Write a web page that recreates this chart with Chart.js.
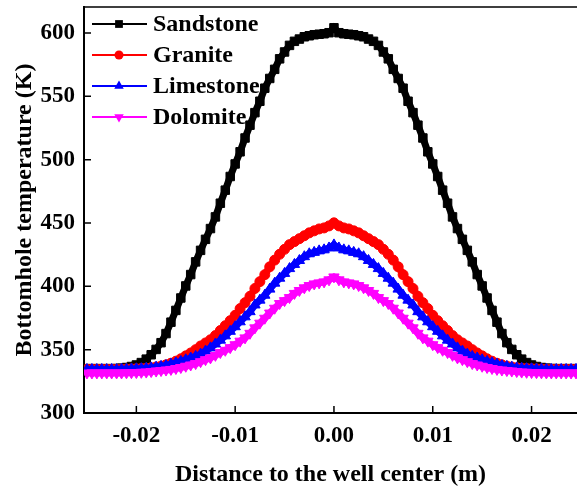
<!DOCTYPE html>
<html>
<head>
<meta charset="utf-8">
<script src="https://cdn.jsdelivr.net/npm/chart.js@4.4.1/dist/chart.umd.min.js"></script>
<style>
  html, body { margin: 0; padding: 0; background: #fff; }
  #wrap { width: 577px; height: 490px; }
</style>
</head>
<body>
<div id="wrap"><canvas id="tempChart" width="577" height="490"></canvas></div>
<script>
// distance to the well center (m)
const distance = [
  -0.025, -0.0245, -0.024, -0.0235, -0.023, -0.0225, -0.022, -0.0215, -0.021, -0.0205,
  -0.02, -0.0195, -0.019, -0.0185, -0.018, -0.0175, -0.017, -0.0165, -0.016, -0.0155,
  -0.015, -0.0145, -0.014, -0.0135, -0.013, -0.0125, -0.012, -0.0115, -0.011, -0.0105,
  -0.01, -0.0095, -0.009, -0.0085, -0.008, -0.0075, -0.007, -0.0065, -0.006, -0.0055,
  -0.005, -0.0045, -0.004, -0.0035, -0.003, -0.0025, -0.002, -0.0015, -0.001, -0.0005,
  0,
  0.0005, 0.001, 0.0015, 0.002, 0.0025, 0.003, 0.0035, 0.004, 0.0045, 0.005,
  0.0055, 0.006, 0.0065, 0.007, 0.0075, 0.008, 0.0085, 0.009, 0.0095, 0.01,
  0.0105, 0.011, 0.0115, 0.012, 0.0125, 0.013, 0.0135, 0.014, 0.0145, 0.015,
  0.0155, 0.016, 0.0165, 0.017, 0.0175, 0.018, 0.0185, 0.019, 0.0195, 0.02,
  0.0205, 0.021, 0.0215, 0.022, 0.0225, 0.023, 0.0235, 0.024, 0.0245, 0.025
];

// bottomhole temperature (K)
const sandstone = [
  335.0, 335.0, 335.0, 335.0, 335.0, 335.0, 335.1, 335.4, 335.9, 336.7,
  337.9, 339.8, 342.5, 346.0, 350.2, 355.5, 362.7, 371.7, 381.0, 390.8,
  400.3, 409.3, 419.3, 428.4, 437.1, 445.6, 454.8, 465.6, 475.9, 486.7,
  496.6, 506.2, 517.1, 527.2, 537.1, 546.1, 556.4, 564.1, 571.3, 579.6,
  585.0, 590.2, 593.4, 595.2, 597.0, 597.8, 598.6, 599.0, 599.4, 600.2,
  604.1,
  600.2, 599.4, 599.0, 598.6, 597.8, 597.0, 595.2, 593.4, 590.2, 585.0,
  579.6, 571.3, 564.1, 556.4, 546.1, 537.1, 527.2, 517.1, 506.2, 496.6,
  486.7, 475.9, 465.6, 454.8, 445.6, 437.1, 428.4, 419.3, 409.3, 400.3,
  390.8, 381.0, 371.7, 362.7, 355.5, 350.2, 346.0, 342.5, 339.8, 337.9,
  336.7, 335.9, 335.4, 335.1, 335.0, 335.0, 335.0, 335.0, 335.0, 335.0
];
const granite = [
  334.5, 334.5, 334.5, 334.5, 334.5, 334.5, 334.5, 334.6, 334.7, 334.8,
  334.9, 335.1, 335.3, 335.7, 336.3, 337.0, 338.0, 339.3, 340.9, 342.8,
  345.1, 347.4, 350.0, 352.9, 355.3, 357.8, 361.1, 365.1, 368.9, 372.9,
  377.1, 382.4, 387.1, 392.1, 398.3, 403.7, 409.2, 415.4, 420.7, 425.3,
  429.2, 432.9, 435.3, 437.6, 439.9, 442.2, 443.8, 445.3, 446.1, 447.7,
  450.1,
  447.7, 446.1, 445.3, 443.8, 442.2, 439.9, 437.6, 435.3, 432.9, 429.2,
  425.3, 420.7, 415.4, 409.2, 403.7, 398.3, 392.1, 387.1, 382.4, 377.1,
  372.9, 368.9, 365.1, 361.1, 357.8, 355.3, 352.9, 350.0, 347.4, 345.1,
  342.8, 340.9, 339.3, 338.0, 337.0, 336.3, 335.7, 335.3, 335.1, 334.9,
  334.8, 334.7, 334.6, 334.5, 334.5, 334.5, 334.5, 334.5, 334.5, 334.5
];
const limestone = [
  334.4, 334.4, 334.4, 334.4, 334.4, 334.4, 334.4, 334.5, 334.6, 334.7,
  334.9, 335.0, 335.3, 335.6, 336.2, 336.8, 337.5, 338.6, 339.6, 340.7,
  342.0, 343.4, 344.7, 346.5, 348.9, 351.4, 354.5, 357.5, 360.9, 364.5,
  368.1, 372.0, 375.9, 380.0, 385.3, 389.1, 393.0, 397.8, 402.5, 406.4,
  410.2, 414.0, 417.3, 420.4, 423.4, 425.7, 426.8, 428.0, 428.8, 430.3,
  432.7,
  430.3, 428.8, 428.0, 426.8, 425.7, 423.4, 420.4, 417.3, 414.0, 410.2,
  406.4, 402.5, 397.8, 393.0, 389.1, 385.3, 380.0, 375.9, 372.0, 368.1,
  364.5, 360.9, 357.5, 354.5, 351.4, 348.9, 346.5, 344.7, 343.4, 342.0,
  340.7, 339.6, 338.6, 337.5, 336.8, 336.2, 335.6, 335.3, 335.0, 334.9,
  334.7, 334.6, 334.5, 334.4, 334.4, 334.4, 334.4, 334.4, 334.4, 334.4
];
const dolomite = [
  331.6, 331.6, 331.6, 331.6, 331.6, 331.6, 331.6, 331.6, 331.7, 331.8,
  331.9, 332.1, 332.3, 332.7, 333.1, 333.5, 333.9, 334.4, 335.1, 335.9,
  336.9, 337.9, 339.0, 340.5, 342.1, 343.5, 345.5, 347.7, 349.5, 351.6,
  353.9, 356.7, 359.3, 362.9, 367.2, 370.9, 374.8, 378.9, 382.7, 386.4,
  388.7, 391.1, 394.4, 396.7, 398.8, 400.6, 401.9, 402.7, 403.5, 405.1,
  407.4,
  405.1, 403.5, 402.7, 401.9, 400.6, 398.8, 396.7, 394.4, 391.1, 388.7,
  386.4, 382.7, 378.9, 374.8, 370.9, 367.2, 362.9, 359.3, 356.7, 353.9,
  351.6, 349.5, 347.7, 345.5, 343.5, 342.1, 340.5, 339.0, 337.9, 336.9,
  335.9, 335.1, 334.4, 333.9, 333.5, 333.1, 332.7, 332.3, 332.1, 331.9,
  331.8, 331.7, 331.6, 331.6, 331.6, 331.6, 331.6, 331.6, 331.6, 331.6
];

const xTicks = [-0.02, -0.01, 0, 0.01, 0.02];
const yTicks = [300, 350, 400, 450, 500, 550, 600];

const serif = "'Liberation Serif', 'Times New Roman', serif";

function toPoints(values) {
  return values.map((y, i) => ({ x: distance[i], y: y }));
}

function makeSeries(label, values, color, pointStyle, radius, rotation, order) {
  return {
    label: label,
    data: toPoints(values),
    showLine: true,
    borderColor: color,
    backgroundColor: color,
    borderWidth: 7,
    pointStyle: pointStyle,
    pointRadius: radius,
    pointRotation: rotation,
    pointBorderWidth: 1,
    pointBorderColor: color,
    pointBackgroundColor: color,
    order: order,
  };
}

// marker for the hand drawn legend
function drawMarker(ctx, style, x, y, r, rotation) {
  ctx.beginPath();
  if (style === "rect") {
    const s = r * Math.SQRT1_2;
    ctx.rect(x - s, y - s, 2 * s, 2 * s);
  } else if (style === "circle") {
    ctx.arc(x, y, r, 0, Math.PI * 2);
  } else {
    let a = (rotation || 0) * Math.PI / 180;
    ctx.moveTo(x + Math.sin(a) * r, y - Math.cos(a) * r);
    for (let i = 0; i < 2; i++) {
      a += Math.PI * 2 / 3;
      ctx.lineTo(x + Math.sin(a) * r, y - Math.cos(a) * r);
    }
    ctx.closePath();
  }
  ctx.fill();
}

const framePlugin = {
  id: "frame",
  afterDraw(chart) {
    const { ctx, chartArea: a, scales } = chart;
    ctx.save();
    ctx.strokeStyle = "#000";
    ctx.lineWidth = 1.5;
    ctx.beginPath();
    ctx.moveTo(a.left, a.top);
    ctx.lineTo(a.right, a.top);
    xTicks.forEach((v) => {
      const px = scales.x.getPixelForValue(v);
      ctx.moveTo(px, a.bottom);
      ctx.lineTo(px, a.bottom - 7);
    });
    yTicks.forEach((v) => {
      const py = scales.y.getPixelForValue(v);
      ctx.moveTo(a.left, py);
      ctx.lineTo(a.left + 7, py);
    });
    ctx.stroke();

    // legend, top left inside the plot
    const rowY = [24, 55, 86, 117];
    chart.data.datasets.forEach((ds, i) => {
      const y = rowY[i];
      ctx.strokeStyle = ds.borderColor;
      ctx.fillStyle = ds.borderColor;
      ctx.lineWidth = 2;
      ctx.beginPath();
      ctx.moveTo(92, y);
      ctx.lineTo(147, y);
      ctx.stroke();
      drawMarker(ctx, ds.pointStyle, 119, y, ds.pointRadius - 0.5, ds.pointRotation);
      ctx.fillStyle = "#000";
      ctx.font = "bold 24px " + serif;
      ctx.textAlign = "left";
      ctx.textBaseline = "middle";
      ctx.fillText(ds.label, 153, y + 1);
    });
    ctx.restore();
  },
};

const ctx = document.getElementById("tempChart").getContext("2d");

new Chart(ctx, {
  type: "scatter",
  data: {
    datasets: [
      makeSeries("Sandstone", sandstone, "#000000", "rect", 6, 0, 4),
      makeSeries("Granite", granite, "#ff0000", "circle", 5, 0, 3),
      makeSeries("Limestone", limestone, "#0000ff", "triangle", 6, 0, 2),
      makeSeries("Dolomite", dolomite, "#ff00ff", "triangle", 6, 180, 1),
    ],
  },
  options: {
    responsive: false,
    animation: false,
    layout: { autoPadding: false, padding: { top: 7, right: 0, bottom: 0, left: 0 } },
    scales: {
      x: {
        type: "linear",
        min: -0.0253,
        max: 0.0246,
        grid: { display: false, drawTicks: false },
        border: { display: true, color: "#000", width: 2 },
        afterBuildTicks: (s) => {
          s.ticks = xTicks.map((v) => ({ value: v }));
        },
        afterFit: (s) => {
          s.height = 77;
          s.paddingLeft = 0;
          s.paddingRight = 0;
        },
        ticks: {
          color: "#000",
          padding: 9,
          maxRotation: 0,
          font: { family: serif, size: 23, weight: "bold" },
          callback: (v) => Number(v).toFixed(2),
        },
        title: {
          display: true,
          text: "Distance to the well center (m)",
          color: "#000",
          font: { family: serif, size: 24, weight: "bold" },
          padding: { top: 0, bottom: 1 },
        },
      },
      y: {
        type: "linear",
        min: 300,
        max: 620.5,
        grid: { display: false, drawTicks: false },
        border: { display: true, color: "#000", width: 2 },
        afterBuildTicks: (s) => {
          s.ticks = yTicks.map((v) => ({ value: v }));
        },
        afterFit: (s) => {
          s.width = 84;
          s.paddingTop = 0;
          s.paddingBottom = 0;
        },
        ticks: {
          color: "#000",
          padding: 9,
          font: { family: serif, size: 23, weight: "bold" },
        },
        title: {
          display: true,
          text: "Bottomhole temperature (K)",
          color: "#000",
          font: { family: serif, size: 24, weight: "bold" },
          padding: { top: 10.5, bottom: 0 },
        },
      },
    },
    plugins: {
      legend: { display: false },
      tooltip: { enabled: false },
    },
  },
  plugins: [framePlugin],
});
</script>
</body>
</html>
